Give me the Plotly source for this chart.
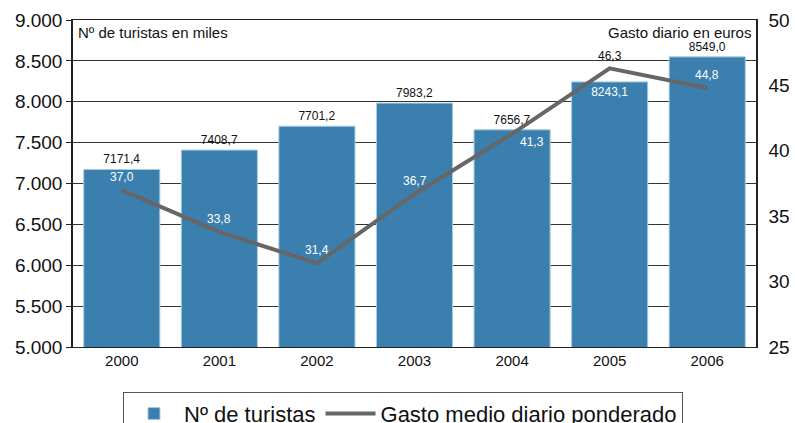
import plotly.graph_objects as go

years = ["2000", "2001", "2002", "2003", "2004", "2005", "2006"]
tourists = [7171.4, 7408.7, 7701.2, 7983.2, 7656.7, 8243.1, 8549.0]
spend = [37.0, 33.8, 31.4, 36.7, 41.3, 46.3, 44.8]
left_ticks = [5000, 5500, 6000, 6500, 7000, 7500, 8000, 8500, 9000]
right_ticks = [25, 30, 35, 40, 45, 50]

def fmt(v):
    return f"{v:.1f}".replace(".", ",")

FONT = "Liberation Sans, Arial, Helvetica, sans-serif"

bar_pos = ["outside", "outside", "outside", "outside", "outside", "inside", "outside"]
bar_col = ["#111111" if p == "outside" else "#ffffff" for p in bar_pos]

fig = go.Figure()
fig.add_trace(go.Bar(
    x=years, y=tourists, name="Nº de turistas",
    marker=dict(color="#3b7fae", line=dict(color="#a9cbe3", width=1)),
    width=0.78,
    text=[fmt(v) for v in tourists], textposition=bar_pos,
    insidetextanchor="end", constraintext="none",
    textfont=dict(size=12, color=bar_col, family=FONT),
    cliponaxis=False, yaxis="y",
))
fig.add_trace(go.Scatter(
    x=years, y=spend, name="Gasto medio diario ponderado",
    mode="lines", line=dict(color="#666666", width=4),
    yaxis="y2",
))

# line value labels (category index positions on the x axis)
shifts = [(0, 13), (0, 13), (0, 13), (0, 13), (20, -8), (0, 12), (0, 13)]
for i, v in enumerate(spend):
    dx, dy = shifts[i]
    col = "#111111" if i == 5 else "#ffffff"
    fig.add_annotation(x=i, y=v, xref="x", yref="y2", text=fmt(v), showarrow=False,
                       xshift=dx, yshift=dy, font=dict(size=12, color=col, family=FONT))

fig.add_annotation(xref="paper", yref="paper", x=0.005, y=0.995, xanchor="left", yanchor="top",
                   text="Nº de turistas en miles", showarrow=False,
                   font=dict(size=15, color="#111111", family=FONT))
fig.add_annotation(xref="paper", yref="paper", x=0.995, y=0.995, xanchor="right", yanchor="top",
                   text="Gasto diario en euros", showarrow=False,
                   font=dict(size=15, color="#111111", family=FONT))

fig.update_layout(
    width=795, height=423,
    margin=dict(l=73, r=39, t=20, b=76, autoexpand=False),
    paper_bgcolor="white", plot_bgcolor="white",
    separators=",.",
    font=dict(family=FONT, color="#111111"),
    showlegend=True,
    legend=dict(orientation="h", x=0.0732, xanchor="left", y=-0.137, yanchor="top",
                bordercolor="#555555", borderwidth=1, font=dict(size=22, family=FONT),
                itemwidth=50, traceorder="normal"),
    xaxis=dict(type="category", range=[-0.5, 6.5], autorange=False,
               showline=True, linecolor="#222222", linewidth=1, mirror=True,
               ticks="", tickfont=dict(size=15), showgrid=False),
    yaxis=dict(range=[5000, 9000], autorange=False, tickvals=left_ticks, tickformat=",d",
               showline=True, linecolor="#222222", linewidth=1.5,
               ticks="outside", ticklen=5, tickcolor="#222222",
               showgrid=True, gridcolor="#333333", gridwidth=1,
               tickfont=dict(size=19), zeroline=False, automargin=False),
    yaxis2=dict(range=[25, 50], autorange=False, tickvals=right_ticks, overlaying="y", side="right",
                showline=True, linecolor="#222222", linewidth=1.5,
                ticks="outside", ticklen=7, tickcolor="white",
                showgrid=False, zeroline=False, tickfont=dict(size=19), automargin=False),
)

fig.write_html("out.html", config={"displayModeBar": False},
               post_script="document.body.style.margin='0';")
